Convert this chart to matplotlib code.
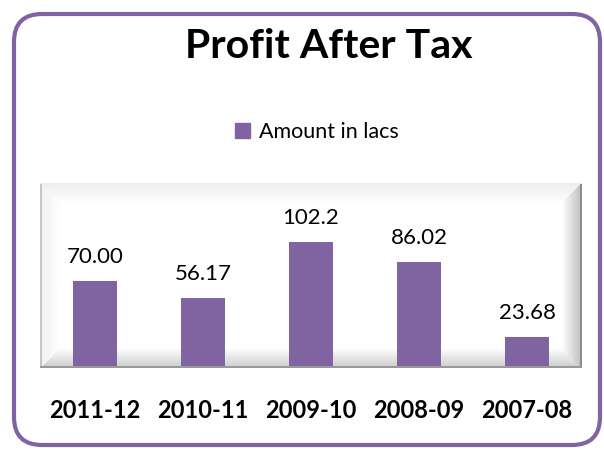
import numpy as np
import matplotlib
matplotlib.use("Agg")
import matplotlib.pyplot as plt
from matplotlib.patches import FancyBboxPatch, Patch

plt.rcParams['font.family'] = ['Lato', 'DejaVu Sans']

years = ["2011-12", "2010-11", "2009-10", "2008-09", "2007-08"]
amount = [70.00, 56.17, 102.2, 86.02, 23.68]
amount_labels = ["70.00", "56.17", "102.2", "86.02", "23.68"]
bar_color = "#8064A2"

fig = plt.figure(figsize=(6.04, 4.5), dpi=100)

# background layer in pixel coordinates
bg = fig.add_axes([0, 0, 1, 1], zorder=0)
bg.set_xlim(0, 604)
bg.set_ylim(450, 0)
bg.axis("off")

frame = FancyBboxPatch((14, 14), 586, 431, boxstyle="round,pad=0,rounding_size=28",
                       fc="white", ec=bar_color, lw=3)
bg.add_patch(frame)

# bevelled plot area
x0, y0, x1, y1 = 40, 183, 582, 368
W, H = x1 - x0, y1 - y0
b = 20
xx, yy = np.meshgrid(np.arange(W) + 0.5, np.arange(H) + 0.5)
dl, dr, dt, db = xx, W - xx, yy, H - yy
shade = np.ones((H, W))
m = np.minimum.reduce([dl, dr, dt, db])
face = np.argmin(np.stack([dl, dr, dt, db]), axis=0)
inb = m < b
t = np.clip(m / b, 0, 1)
shade = np.where(inb & (face == 0), 0.94 + 0.06 * t, shade)
shade = np.where(inb & (face == 1), 0.74 + 0.26 * t, shade)
shade = np.where(inb & (face == 2), 0.93 + 0.07 * t, shade)
shade = np.where(inb & (face == 3), 0.80 + 0.20 * t, shade)
shade = np.where(dl < 2, 0.78, shade)
shade = np.where(dr < 2.5, 0.55, shade)
shade = np.where(db < 2.5, 0.6, shade)
shade = np.where(dt < 1.5, 0.93, shade)
rgb = np.dstack([shade] * 3)
bg.imshow(rgb, extent=(x0, x1, y1, y0), interpolation="bilinear", zorder=2, aspect="auto")

# chart
ax = fig.add_axes([41 / 604, 1 - 366 / 450, 540 / 604, 183 / 450], zorder=1)
ax.patch.set_alpha(0)
x = np.arange(len(years))
bars = ax.bar(x, amount, width=0.4, color=bar_color)
ax.bar_label(bars, labels=amount_labels, padding=10, fontsize=16)
ax.set_xlim(-0.5, len(years) - 0.5)
ax.set_ylim(0, 150.7)
ax.set_xticks(x)
ax.set_xticklabels(years, fontsize=17, fontweight="bold")
ax.tick_params(axis="x", length=0, pad=24)
ax.set_yticks([])
for s in ax.spines.values():
    s.set_visible(False)

fig.text(329 / 604, 1 - 47 / 450, "Profit After Tax", ha="center", va="center",
         fontsize=29.5, fontweight="bold")
ax.legend(handles=[Patch(color=bar_color, label="Amount in lacs")], loc="center",
          bbox_to_anchor=(317 / 604, 1 - 132 / 450), bbox_transform=fig.transFigure,
          frameon=False, fontsize=15.5, handlelength=0.7, handleheight=0.7, handletextpad=0.4)

fig.savefig("out.png", dpi=100)
